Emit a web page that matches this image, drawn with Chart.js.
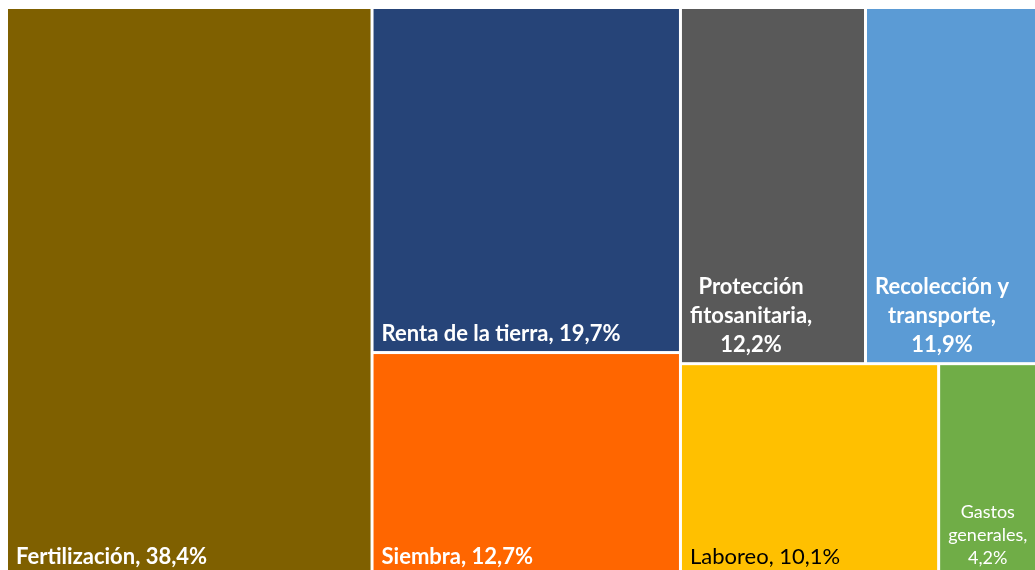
<!DOCTYPE html>
<html>
<head>
<meta charset="utf-8">
<script src="https://cdn.jsdelivr.net/npm/chart.js@4"></script>
<style>
  body { margin: 0; background: #fff; overflow: hidden; }
</style>
</head>
<body>
<canvas id="treemap" width="1050" height="580"></canvas>
<script>
// datos del gráfico (% del coste total)
const categorias = ['Fertilización', 'Renta de la tierra', 'Siembra', 'Protección fitosanitaria',
  'Recolección y transporte', 'Laboreo', 'Gastos generales'];
const porcentajes = [38.4, 19.7, 12.7, 12.2, 11.9, 10.1, 4.2];

// estilos
const colores = ['#7F6000', '#264478', '#FF6600', '#595959', '#5B9BD5', '#FFC000', '#70AD47'];
const coloresTexto = ['#fff', '#fff', '#fff', '#fff', '#fff', '#000', '#fff'];

// squarified treemap, en un rectángulo de ancho "aspect" y alto 1
function squarify(vals, aspect) {
  const total = vals.reduce((a, b) => a + b, 0);
  const areas = vals.map(v => v * aspect / total);
  const worst = (row, side) => {
    const s = row.reduce((a, b) => a + b, 0);
    const mx = Math.max(...row), mn = Math.min(...row);
    return Math.max(side * side * mx / (s * s), (s * s) / (side * side * mn));
  };
  let x = 0, y = 0, w = aspect, h = 1, i = 0;
  const out = [];
  while (i < areas.length) {
    const side = Math.min(w, h);
    const row = [areas[i]];
    let j = i + 1;
    while (j < areas.length && worst([...row, areas[j]], side) <= worst(row, side)) {
      row.push(areas[j]); j++;
    }
    const s = row.reduce((a, b) => a + b, 0);
    if (w >= h) {
      const cw = s / h; let cy = y;
      row.forEach(a => { const rh = a / cw; out.push({ x, y: cy, w: cw, h: rh }); cy += rh; });
      x += cw; w -= cw;
    } else {
      const rh = s / w; let cx = x;
      row.forEach(a => { const rw = a / rh; out.push({ x: cx, y, w: rw, h: rh }); cx += rw; });
      y += rh; h -= rh;
    }
    i = j;
  }
  return out;
}

function wrap(ctx, text, maxW) {
  const words = text.split(' ');
  const lines = [];
  let cur = '';
  words.forEach(wd => {
    const test = cur ? cur + ' ' + wd : wd;
    if (cur && ctx.measureText(test).width > maxW) { lines.push(cur); cur = wd; }
    else cur = test;
  });
  if (cur) lines.push(cur);
  return lines;
}

const treemapPlugin = {
  id: 'treemap',
  afterDatasetsDraw(chart) {
    const { ctx, chartArea, scales: { x: sx, y: sy } } = chart;
    const aspect = chartArea.width / chartArea.height;
    const rects = squarify(porcentajes, aspect);
    const gap = 1.5;
    ctx.save();
    rects.forEach((r, k) => {
      const left = sx.getPixelForValue(r.x / aspect) + gap;
      const right = sx.getPixelForValue((r.x + r.w) / aspect) - gap;
      const top = sy.getPixelForValue(r.y) + gap;
      const bottom = sy.getPixelForValue(r.y + r.h) - gap;
      ctx.fillStyle = colores[k];
      ctx.fillRect(left, top, right - left, bottom - top);

      // etiqueta
      const label = categorias[k] + ', ' + porcentajes[k].toFixed(1).replace('.', ',') + '%';
      const maxW = right - left - 20;
      const bold = k === 5 ? '' : 'bold ';
      ctx.font = bold + '22px Lato, "Open Sans", sans-serif';
      let lh = 29;
      const tooWide = label.split(' ').some(wd => ctx.measureText(wd).width > maxW);
      if (tooWide) {
        ctx.font = '18px Lato, "Open Sans", sans-serif';
        lh = 23;
      }
      const lines = wrap(ctx, label, maxW);
      const widest = Math.max(...lines.map(l => ctx.measureText(l).width));
      const cx = left + 8 + widest / 2;
      ctx.fillStyle = coloresTexto[k];
      ctx.textAlign = 'center';
      ctx.textBaseline = 'alphabetic';
      lines.forEach((l, n) => {
        ctx.fillText(l, cx, bottom - 10 - (lines.length - 1 - n) * lh);
      });
    });
    ctx.restore();
  }
};

new Chart(document.getElementById('treemap'), {
  type: 'scatter',
  data: { datasets: [{ data: [] }] },
  options: {
    responsive: false,
    animation: false,
    layout: { padding: { left: 6.5, top: 7.5, right: 4, bottom: 5 } },
    scales: {
      x: { type: 'linear', min: 0, max: 1, display: false },
      y: { type: 'linear', min: 0, max: 1, reverse: true, display: false }
    },
    plugins: { legend: { display: false }, tooltip: { enabled: false } }
  },
  plugins: [treemapPlugin]
});
</script>
</body>
</html>
